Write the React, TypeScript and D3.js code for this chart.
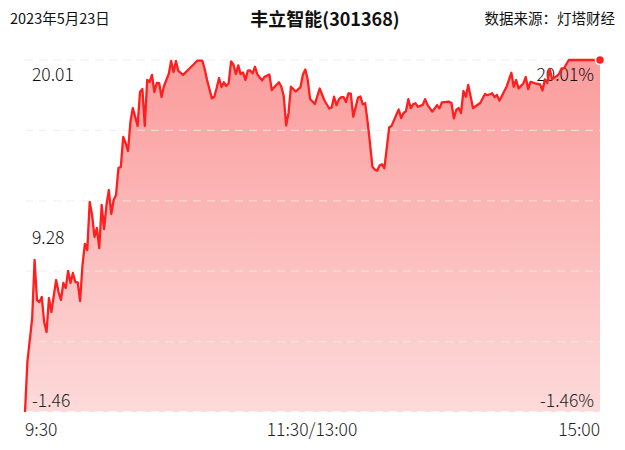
import React from "react";
import * as d3 from "d3";

const dateLabel = "2023年5月23日";
const titleLabel = "丰立智能(301368)";
const sourceLabel = "数据来源：灯塔财经";
const timeLabels = ["9:30", "11:30/13:00", "15:00"];
const leftTickLabels = ["20.01", "9.28", "-1.46"];
const rightTickLabels = ["20.01%", "-1.46%"];
const yMin = -1.46;
const yMax = 20.01;
const totalMinutes = 240;

// minutes since 9:30 (trading time) and percent change
const minutes = [
  0, 1, 3, 4, 5, 6, 7, 8, 9, 10, 11, 13, 14, 15, 16, 17, 18, 19, 20, 21, 22, 23, 24, 25, 26, 27, 28, 29, 30,
  31, 32, 33, 34, 35, 36, 37, 38, 39, 40, 41, 42, 43, 44, 45, 46, 47, 48, 49, 50, 51, 52, 53, 54, 55, 56, 57,
  58, 59, 60, 61, 62, 63, 64, 66, 68, 71, 72, 74, 75, 76, 78, 79, 80, 81, 82, 83, 84, 85, 86, 87, 88, 89, 90,
  91, 92, 93, 94, 95, 96, 97, 98, 99, 100, 102, 103, 104, 106, 107, 108, 109, 110, 111, 113, 115, 116, 117,
  118, 119, 121, 123, 125, 127, 128, 129, 130, 131, 132, 133, 134, 135, 136, 137, 139, 140, 141, 142, 143,
  144, 145, 146, 147, 148, 149, 150, 152, 153, 155, 156, 157, 158, 159, 160, 161, 162, 163, 164, 166, 167,
  168, 170, 172, 173, 174, 177, 178, 179, 180, 181, 182, 183, 184, 185, 187, 190, 192, 193, 195, 196, 197,
  198, 201, 203, 204, 205, 206, 208, 209, 210, 211, 213, 215, 216, 217, 218, 219, 220, 222, 223, 224, 225,
  227, 240,
];
const changes = [
  -1.46, 1.59, 4.27, 7.81, 5.37, 5.25, 5.56, 4.03, 3.42, 5.49, 4.64, 6.59, 5.86, 5.37, 6.41, 6.1, 7.14, 6.41,
  7.02, 6.47, 6.45, 5.31, 7.51, 8.79, 8.42, 11.35, 10.56, 9.22, 9.76, 8.54, 11.17, 9.7, 11.15, 12.08, 10.62,
  11.47, 11.78, 13.42, 13.49, 15.32, 14.95, 14.46, 16.23, 17.08, 16.54, 15.99, 18.06, 18.24, 15.99, 18.79,
  18.67, 19.1, 18.06, 18.61, 18.6, 17.75, 18.42, 18.79, 19.16, 19.95, 19.28, 19.95, 19.34, 19.1, 19.4, 19.83,
  19.97, 19.97, 19.46, 18.79, 17.67, 17.77, 18.3, 18.91, 18.36, 18.65, 18.42, 18.58, 19.92, 19.74, 19.16,
  19.68, 19.15, 19.25, 18.79, 19.36, 19.37, 19.2, 19.6, 19.13, 18.94, 18.76, 18.99, 19.13, 18.18, 18.35,
  18.65, 18.38, 17.81, 16.02, 16.78, 18.38, 18.09, 18.36, 19.13, 19.43, 18.82, 17.63, 17.33, 18.27, 17.54,
  17.05, 17.11, 17.77, 17.25, 17.61, 17.75, 17.74, 17.45, 17.98, 17.96, 16.55, 17.72, 17.78, 17.3, 17.37,
  16.25, 14.92, 13.5, 13.33, 13.26, 13.58, 13.65, 13.41, 15.89, 15.99, 16.68, 16.99, 16.47, 16.78, 16.88,
  17.62, 17.08, 17.31, 17.37, 17.16, 17.27, 17.62, 17.27, 16.86, 17.26, 17.06, 17.42, 17.47, 17.39, 16.45,
  16.96, 17.08, 16.78, 18.12, 17.77, 18.49, 17.08, 17.39, 17.94, 17.86, 17.98, 17.75, 17.88, 17.53, 18.38,
  19.23, 18.38, 18.79, 18.28, 18.58, 18.97, 18.24, 18.67, 18.58, 18.52, 18.15, 18.83, 18.61, 19.46, 18.85,
  19.03, 19.19, 19.5, 19.52, 20.01, 20.01,
];

export default function App() {
  const W = 625;
  const H = 450;
  const left = 25;
  const right = 600;
  const top = 60;
  const bottom = 412;

  const x = d3.scaleLinear().domain([0, totalMinutes]).range([left, right]);
  const y = d3.scaleLinear().domain([yMin, yMax]).range([bottom, top]);

  const pts = minutes.map((m, i) => ({ m, v: changes[i] }));
  const line = d3
    .line<{ m: number; v: number }>()
    .x((d) => x(d.m))
    .y((d) => y(d.v));
  const area = d3
    .area<{ m: number; v: number }>()
    .x((d) => x(d.m))
    .y0(bottom)
    .y1((d) => y(d.v));

  const gridVals = d3.range(6).map((i) => yMin + ((yMax - yMin) * i) / 5);
  const last = pts[pts.length - 1];
  const font = "'Noto Sans CJK SC', 'Noto Sans', sans-serif";
  const lw = 300;

  return (
    <svg
      width={W}
      height={H}
      style={{ position: "absolute", left: 0, top: 0, background: "#fff" }}
      fontFamily={font}
    >
      <defs>
        <linearGradient id="fillGrad" x1="0" y1="0" x2="0" y2="1">
          <stop offset="0%" stopColor="#fb9c9c" />
          <stop offset="100%" stopColor="#fddada" />
        </linearGradient>
      </defs>
      <text x={10} y={24} fontSize={14.5} fill="#111">
        {dateLabel}
      </text>
      <text x={325} y={26} fontSize={18} fontWeight="bold" textAnchor="middle" fill="#111">
        {titleLabel}
      </text>
      <text x={615} y={24} fontSize={14.5} textAnchor="end" fill="#111">
        {sourceLabel}
      </text>

      <path d={area(pts) || ""} fill="url(#fillGrad)" />
      {gridVals.map((v, i) => (
        <line
          key={i}
          x1={left}
          x2={right}
          y1={y(v)}
          y2={y(v)}
          stroke={i === 0 ? "#ffffff" : "#ececec"}
          strokeOpacity={i === 0 ? 1 : 0.7}
          strokeDasharray="8,6"
          strokeWidth={1.3}
        />
      ))}

      <text x={32} y={y(yMax) + 21} fontSize={17.5} fontWeight={lw} fill="#111">
        {leftTickLabels[0]}
      </text>
      <text x={32} y={y((yMax + yMin) / 2) + 8} fontSize={17.5} fontWeight={lw} fill="#111">
        {leftTickLabels[1]}
      </text>
      <text x={32} y={y(yMin) - 5} fontSize={17.5} fontWeight={lw} fill="#222">
        {leftTickLabels[2]}
      </text>
      <text x={594} y={y(yMax) + 21} fontSize={17.5} fontWeight={lw} textAnchor="end" fill="#111">
        {rightTickLabels[0]}
      </text>
      <text x={594} y={y(yMin) - 5} fontSize={17.5} fontWeight={lw} textAnchor="end" fill="#222">
        {rightTickLabels[1]}
      </text>

      <path d={line(pts) || ""} fill="none" stroke="#ff1f1f" strokeWidth={2.3} strokeLinejoin="round" />
      <circle cx={x(last.m)} cy={y(last.v)} r={4.5} fill="#ff2020" stroke="#fff" strokeWidth={1.5} />

      <text x={left} y={436} fontSize={17.5} fontWeight={lw} fill="#222">
        {timeLabels[0]}
      </text>
      <text x={312} y={436} fontSize={17.5} fontWeight={lw} textAnchor="middle" fill="#222">
        {timeLabels[1]}
      </text>
      <text x={right} y={436} fontSize={17.5} fontWeight={lw} textAnchor="end" fill="#222">
        {timeLabels[2]}
      </text>
    </svg>
  );
}
